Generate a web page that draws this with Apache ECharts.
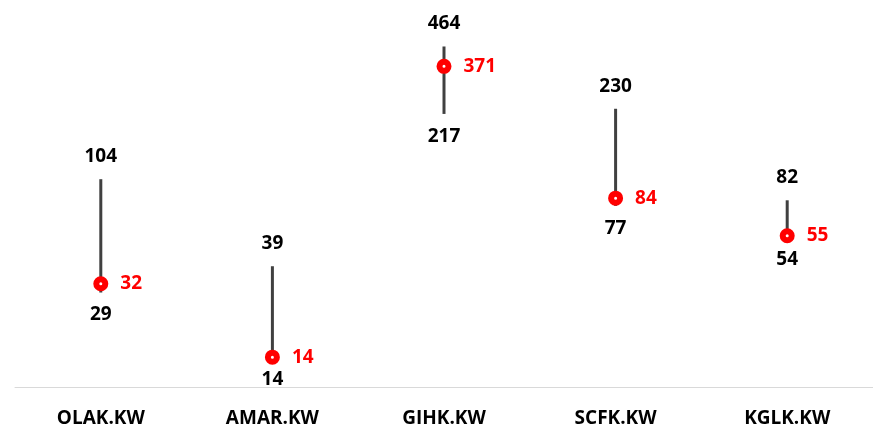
<!DOCTYPE html>
<html>
<head>
<meta charset="utf-8">
<script src="https://cdn.jsdelivr.net/npm/echarts@6/dist/echarts.min.js"></script>
<style>
html,body{margin:0;padding:0;background:#fff;}
#main{width:873px;height:428px;}
</style>
</head>
<body>
<div id="main"></div>
<script>
const categories = ['OLAK.KW', 'AMAR.KW', 'GIHK.KW', 'SCFK.KW', 'KGLK.KW'];
const highs = [104, 39, 464, 230, 82];
const lows = [29, 14, 217, 77, 54];
const closes = [32, 14, 371, 84, 55];

const FONT = 'Open Sans';
const FS = 19;
const chart = echarts.init(document.getElementById('main'));
chart.setOption({
  animation: false,
  backgroundColor: '#ffffff',
  grid: { left: 15, right: 0, top: 10, bottom: 38 },
  xAxis: {
    type: 'category',
    data: categories,
    axisLine: { lineStyle: { color: '#d9d9d9', width: 1 } },
    axisTick: { show: false },
    axisLabel: { color: '#000', fontWeight: 'bold', fontSize: FS, fontFamily: FONT, margin: 22 }
  },
  yAxis: {
    type: 'log',
    logBase: 10,
    min: 10,
    max: 700,
    show: false,
    splitLine: { show: false }
  },
  series: [
    {
      type: 'custom',
      z: 1,
      data: categories.map((c, i) => [i, lows[i], highs[i]]),
      renderItem: function (params, api) {
        const p1 = api.coord([api.value(0), api.value(1)]);
        const p2 = api.coord([api.value(0), api.value(2)]);
        return {
          type: 'line',
          shape: { x1: p1[0], y1: p1[1], x2: p2[0], y2: p2[1] },
          style: { stroke: '#404040', lineWidth: 3 }
        };
      }
    },
    {
      type: 'scatter',
      symbolSize: 0,
      data: highs,
      itemStyle: { opacity: 1 },
      label: { show: true, position: 'top', distance: 13, color: '#000', fontWeight: 'bold', fontSize: FS, fontFamily: FONT }
    },
    {
      type: 'scatter',
      symbolSize: 0,
      data: lows,
      itemStyle: { opacity: 1 },
      label: { show: true, position: 'bottom', distance: 13, color: '#000', fontWeight: 'bold', fontSize: FS, fontFamily: FONT }
    },
    {
      type: 'scatter',
      z: 5,
      symbol: 'circle',
      symbolSize: 9,
      data: closes,
      itemStyle: { color: '#ffffff', borderColor: '#ff0000', borderWidth: 6, opacity: 1 },
      label: { show: true, position: 'right', distance: 12, color: '#ff0000', fontWeight: 'bold', fontSize: FS, fontFamily: FONT }
    }
  ]
});
</script>
</body>
</html>
